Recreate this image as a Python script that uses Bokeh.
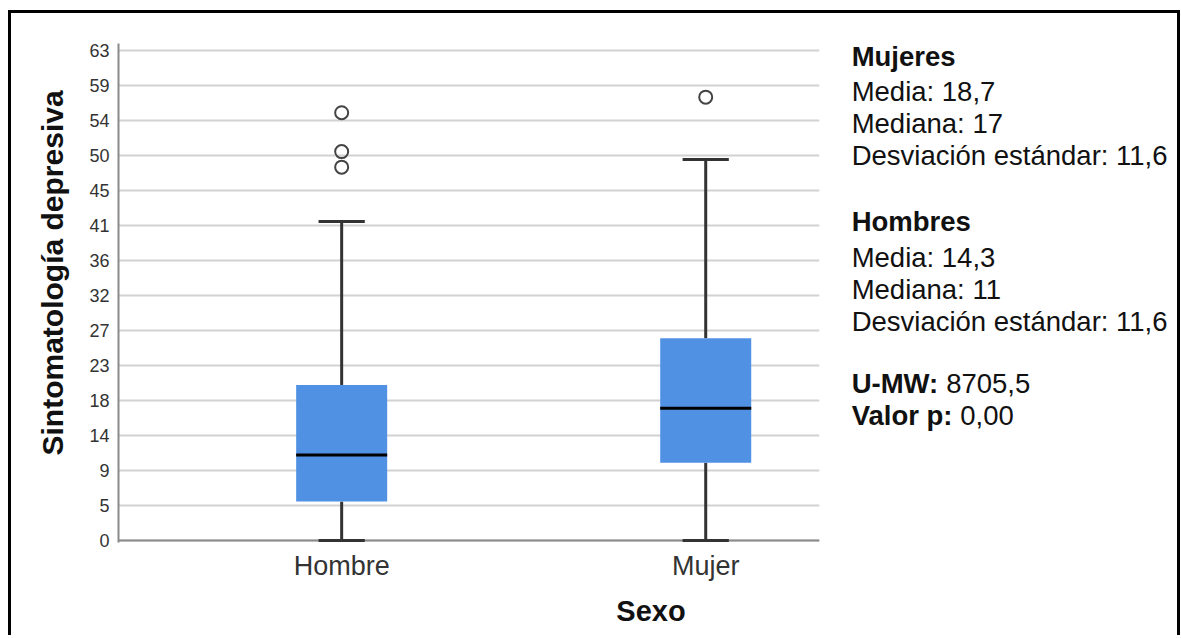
from bokeh.plotting import figure
from bokeh.models import Range1d, FixedTicker, Title
from bokeh.embed import file_html
from bokeh.resources import INLINE
from bokeh.core.properties import value

# ---------------- data ----------------
groups = ["Hombre", "Mujer"]
xpos = [1, 2]
q1 = [5, 10]
median = [11, 17]
q3 = [20, 26]
whisk_low = [0, 0]
whisk_high = [41, 49]
out_x = [1, 1, 1, 2]
out_vals = [55, 50, 48, 57]

ytick_vals = [0, 4.5, 9, 13.5, 18, 22.5, 27, 31.5, 36, 40.5, 45, 49.5, 54, 58.5, 63]
ytick_labels = ["0", "5", "9", "14", "18", "23", "27", "32", "36", "41", "45", "50", "54", "59", "63"]

mujeres_title = "Mujeres"
mujeres_lines = ["Media: 18,7", "Mediana: 17", "Desviación estándar: 11,6"]
hombres_title = "Hombres"
hombres_lines = ["Media: 14,3", "Mediana: 11", "Desviación estándar: 11,6"]
test_names = ["U-MW:", "Valor p:"]
test_values = ["8705,5", "0,00"]

x_title = "Sexo"
y_title = "Sintomatología depresiva"

# ---------------- layout ----------------
FONT = "Liberation Sans"
BORDER = 3
W, H = 1172, 625
CW, CH = W - 2 * BORDER, H
ML, MR, MT, MB = 107, 0, 30, 96
FW, FH = CW - ML - MR, CH - MT - MB
SX, SY = 362.0, 7.778          # pixels per data unit
X0 = 0.387                     # left edge of the plotting area
XG = 2.312                     # right end of the grid / category axis
X1 = X0 + FW / SX
Y1 = 63.9
Y0 = Y1 - FH / SY

p = figure(width=W, height=H, output_backend="svg", toolbar_location=None,
           x_range=Range1d(X0, X1), y_range=Range1d(Y0, Y1),
           min_border_left=ML, min_border_right=MR, min_border_top=MT, min_border_bottom=MB)
p.styles = {"border": "3px solid black", "border-bottom": "none",
            "margin-top": "10px", "margin-left": "8px"}
p.outline_line_color = None
p.background_fill_color = "white"
p.border_fill_color = "white"

# axes
p.xaxis.ticker = FixedTicker(ticks=xpos)
p.xaxis.major_label_overrides = dict(zip(xpos, groups))
p.yaxis.ticker = FixedTicker(ticks=ytick_vals)
p.yaxis.major_label_overrides = dict(zip(ytick_vals, ytick_labels))
for ax in (p.xaxis[0], p.yaxis[0]):
    ax.axis_line_color = "#8a8a8a"
    ax.axis_line_width = 2
    ax.major_tick_line_color = None
    ax.minor_tick_line_color = None
    ax.major_tick_out = 0
    ax.major_tick_in = 0
    ax.major_label_text_font = FONT
    ax.major_label_text_color = "#333333"
    ax.axis_label_text_font = FONT
    ax.axis_label_text_font_style = "bold"
    ax.axis_label_text_color = "#111111"

p.xaxis.axis_line_color = None
p.xaxis.major_label_text_font_size = "27px"
p.xaxis.major_label_standoff = 8
p.xaxis.axis_label = x_title
p.xaxis.axis_label_text_font_size = "29px"
p.xaxis.axis_label_standoff = 11

p.yaxis.major_label_text_font_size = "18px"
p.yaxis.major_label_standoff = 9

ytitle = Title(text=y_title, align="left", offset=87, standoff=35,
               text_font=FONT, text_font_size="30px", text_font_style="bold",
               text_color="#111111")
p.add_layout(ytitle, "left")

p.xgrid.grid_line_color = None
p.ygrid.grid_line_color = None

# horizontal grid lines and category axis line, limited to the plotting area
p.segment(x0=[X0] * len(ytick_vals), x1=[XG] * len(ytick_vals),
          y0=ytick_vals, y1=ytick_vals, line_color="#d2d2d2", line_width=2)
p.segment(x0=[X0], x1=[XG], y0=[0], y1=[0], line_color="#8a8a8a", line_width=2)

# ---------------- boxes ----------------
BOX_W = 0.25
CAP_W = 0.127
line_col = "#333333"

p.segment(x0=xpos, y0=q3, x1=xpos, y1=whisk_high, line_color=line_col, line_width=3)
p.segment(x0=xpos, y0=q1, x1=xpos, y1=whisk_low, line_color=line_col, line_width=3)
p.segment(x0=[x - CAP_W / 2 for x in xpos], y0=whisk_high,
          x1=[x + CAP_W / 2 for x in xpos], y1=whisk_high, line_color=line_col, line_width=3)
p.segment(x0=[x - CAP_W / 2 for x in xpos], y0=whisk_low,
          x1=[x + CAP_W / 2 for x in xpos], y1=whisk_low, line_color=line_col, line_width=3)
p.vbar(x=xpos, width=BOX_W, bottom=q1, top=q3, fill_color="#5091e4", line_color=None)
p.segment(x0=[x - BOX_W / 2 for x in xpos], y0=median,
          x1=[x + BOX_W / 2 for x in xpos], y1=median, line_color="black", line_width=3)
p.scatter(x=out_x, y=out_vals, marker="circle", size=13, fill_color=None,
          line_color="#444444", line_width=2)

# ---------------- side text ----------------
def xd(px):  # pixels from frame left -> data x
    return X0 + px / SX

def yd(py):  # pixels from frame top -> data y
    return Y1 - py / SY

TX = 729
TY = 13
bold_txt, bold_x, bold_y = [], [], []
norm_txt, norm_x, norm_y = [], [], []

bold_txt.append(mujeres_title); bold_x.append(xd(TX)); bold_y.append(yd(TY))
for i, t in enumerate(mujeres_lines):
    norm_txt.append(t); norm_x.append(xd(TX)); norm_y.append(yd(TY + 35 + 32 * i))
bold_txt.append(hombres_title); bold_x.append(xd(TX)); bold_y.append(yd(TY + 165))
for i, t in enumerate(hombres_lines):
    norm_txt.append(t); norm_x.append(xd(TX)); norm_y.append(yd(TY + 201 + 32 * i))
name_w = [94, 108]
for i, (n, v) in enumerate(zip(test_names, test_values)):
    bold_txt.append(n); bold_x.append(xd(TX)); bold_y.append(yd(TY + 327 + 32 * i))
    norm_txt.append(v); norm_x.append(xd(TX + name_w[i])); norm_y.append(yd(TY + 327 + 32 * i))

p.text(x=bold_x, y=bold_y, text=bold_txt, text_font=value(FONT), text_font_size="27.5px",
       text_font_style="bold", text_color="#111111", text_baseline="alphabetic", text_align="left")
p.text(x=norm_x, y=norm_y, text=norm_txt, text_font=value(FONT), text_font_size="27.5px",
       text_color="#111111", text_baseline="alphabetic", text_align="left")

open("out.html", "w").write(file_html(p, INLINE))
